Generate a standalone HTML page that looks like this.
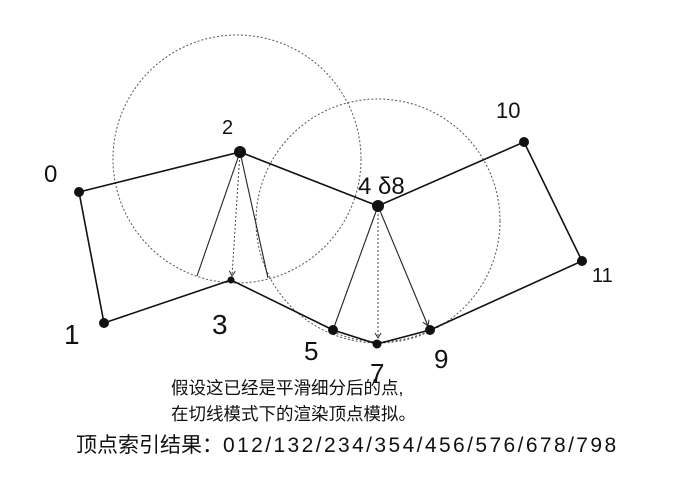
<!DOCTYPE html>
<html><head><meta charset="utf-8"><style>
body{margin:0;background:#fff;width:690px;height:489px;overflow:hidden}
svg{position:absolute;left:0;top:0}
.t{position:absolute;font-family:"Liberation Sans","Noto Sans CJK SC",sans-serif;color:#111;white-space:nowrap}
</style></head><body>
<svg width="690" height="489" viewBox="0 0 690 489">
<defs><marker id="a" markerWidth="8" markerHeight="8" refX="6" refY="4" orient="auto"><path d="M1,1 L6,4 L1,7" fill="none" stroke="#333" stroke-width="1"/></marker></defs>
<g fill="none" stroke="#555" stroke-width="1" stroke-dasharray="2,2">
<circle cx="237" cy="159" r="124"/>
<circle cx="378" cy="221" r="122"/>
<path d="M333,332 Q380,352 430,331"/>
</g>
<g stroke="#111" stroke-width="1.6" fill="none">
<polyline points="79,192 240,152 378,206 524,142 582,261 430,330 377,344 333,330 231,280 104,323 79,192"/>
</g>
<g stroke="#222" stroke-width="1.1" fill="none">
<line x1="240" y1="152" x2="197" y2="276"/>
<line x1="240" y1="152" x2="268" y2="278"/>
<line x1="378" y1="206" x2="333" y2="330"/>
<line x1="378" y1="206" x2="428" y2="326" marker-end="url(#a)"/>
</g>
<g stroke="#444" stroke-width="1" stroke-dasharray="2,2" fill="none">
<line x1="240" y1="152" x2="232" y2="276" marker-end="url(#a)"/>
<line x1="378" y1="206" x2="378" y2="338" marker-end="url(#a)"/>
</g>
<g fill="#111">
<circle cx="79" cy="192" r="5"/><circle cx="104" cy="323" r="5"/>
<circle cx="240" cy="152" r="6"/><circle cx="231" cy="280" r="3.5"/>
<circle cx="378" cy="206" r="6"/><circle cx="333" cy="330" r="5"/>
<circle cx="377" cy="344" r="4.5"/><circle cx="430" cy="330" r="5"/>
<circle cx="524" cy="142" r="5"/><circle cx="582" cy="261" r="5"/>
</g>
<g font-family="Liberation Sans, sans-serif" font-size="24" fill="#111">
<text x="44" y="182">0</text><text x="222" y="134" font-size="20">2</text>
<text x="64" y="344" font-size="28">1</text><text x="212" y="334" font-size="28">3</text>
<text x="358" y="194">4 δ8</text><text x="304" y="360" font-size="26">5</text>
<text x="370" y="382" font-size="26">7</text><text x="434" y="368" font-size="26">9</text>
<text x="496" y="118" font-size="22">10</text><text x="592" y="282" font-size="20">11</text>
</g>
</svg>
<div class="t" style="left:171px;top:375px;font-size:17.5px">假设这已经是平滑细分后的点,</div>
<div class="t" style="left:171px;top:401px;font-size:17.5px">在切线模式下的渲染顶点模拟。</div>
<div class="t" style="left:76px;top:429px;font-size:21px">顶点索引结果：<span style="letter-spacing:2.4px">012/132/234/354/456/576/678/798</span></div>
</body></html>
